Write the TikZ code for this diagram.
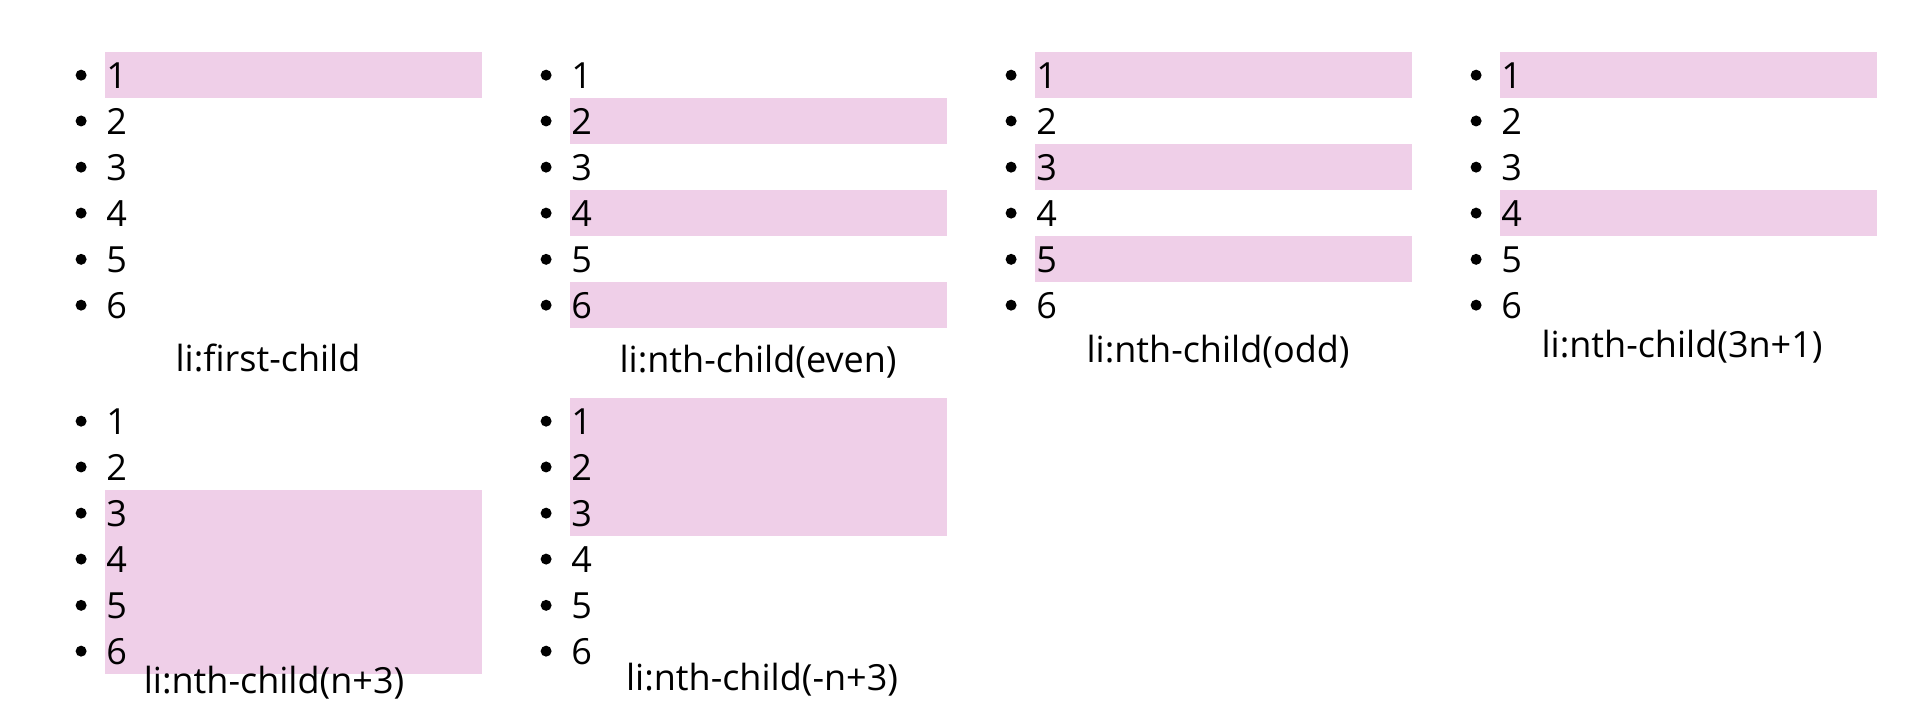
\documentclass[tikz,border=0pt]{standalone}
\usepackage{fontspec}
\setmainfont{Open Sans}
\usepackage{tikz}
\usetikzlibrary{positioning}

\definecolor{rosa}{RGB}{239,207,232}

\begin{document}
\begin{tikzpicture}[
        x=0.5pt, y=-0.5pt,
        font=\fontsize{18}{22}\selectfont,
        dot/.style={fill, circle, inner sep=0pt, minimum size=5.5pt},
        num/.style={inner sep=0pt, anchor=base west},
        marca/.style={fill=rosa},
        rotulo/.style={inner sep=0pt, anchor=base}
    ]
        % --- Parametros de las listas ---
        \def\ancho{377} % ancho de cada fila marcada
        \def\fila{46}   % alto de cada fila
        \useasboundingbox (0,0) rectangle (1920,709);

        % --- Filas marcadas (x, y superior, numero de filas) ---
        \foreach \x/\y/\n in {105/52/1,
                570/98/1, 570/190/1, 570/282/1,
                1035/52/1, 1035/144/1, 1035/236/1,
                1500/52/1, 1500/190/1,
                105/490/4, 570/398/3}
            \fill[marca] (\x,\y) rectangle ++(\ancho,\n*\fila);

        % --- Listas de arriba ---
        \foreach \x in {105,570,1035,1500}{
            \foreach \i in {1,...,6}{
                \node[num] (n-\x-\i) at (\x+1, 88+\fila*\i-\fila) {\i};
                \node[dot, left=9.5pt of n-\x-\i.west] (b-\x-\i) {};
            }
        }
        % --- Listas de abajo ---
        \foreach \x in {105,570}{
            \foreach \i in {1,...,6}{
                \node[num] (m-\x-\i) at (\x+1, 434+\fila*\i-\fila) {\i};
                \node[dot, left=9.5pt of m-\x-\i.west] (c-\x-\i) {};
            }
        }

        % --- Selectores ---
        \node[rotulo] (first) at (268,371) {li:first-child};
        \node[rotulo] (even) at (758,372) {li:nth-child(even)};
        \node[rotulo] (odd) at (1218,362) {li:nth-child(odd)};
        \node[rotulo] (tres) at (1682,357) {li:nth-child(3n+1)};
        \node[rotulo] (mas) at (274,693) {li:nth-child(n+3)};
        \node[rotulo] (menos) at (762,690) {li:nth-child(-n+3)};

    \end{tikzpicture}
\end{document}
